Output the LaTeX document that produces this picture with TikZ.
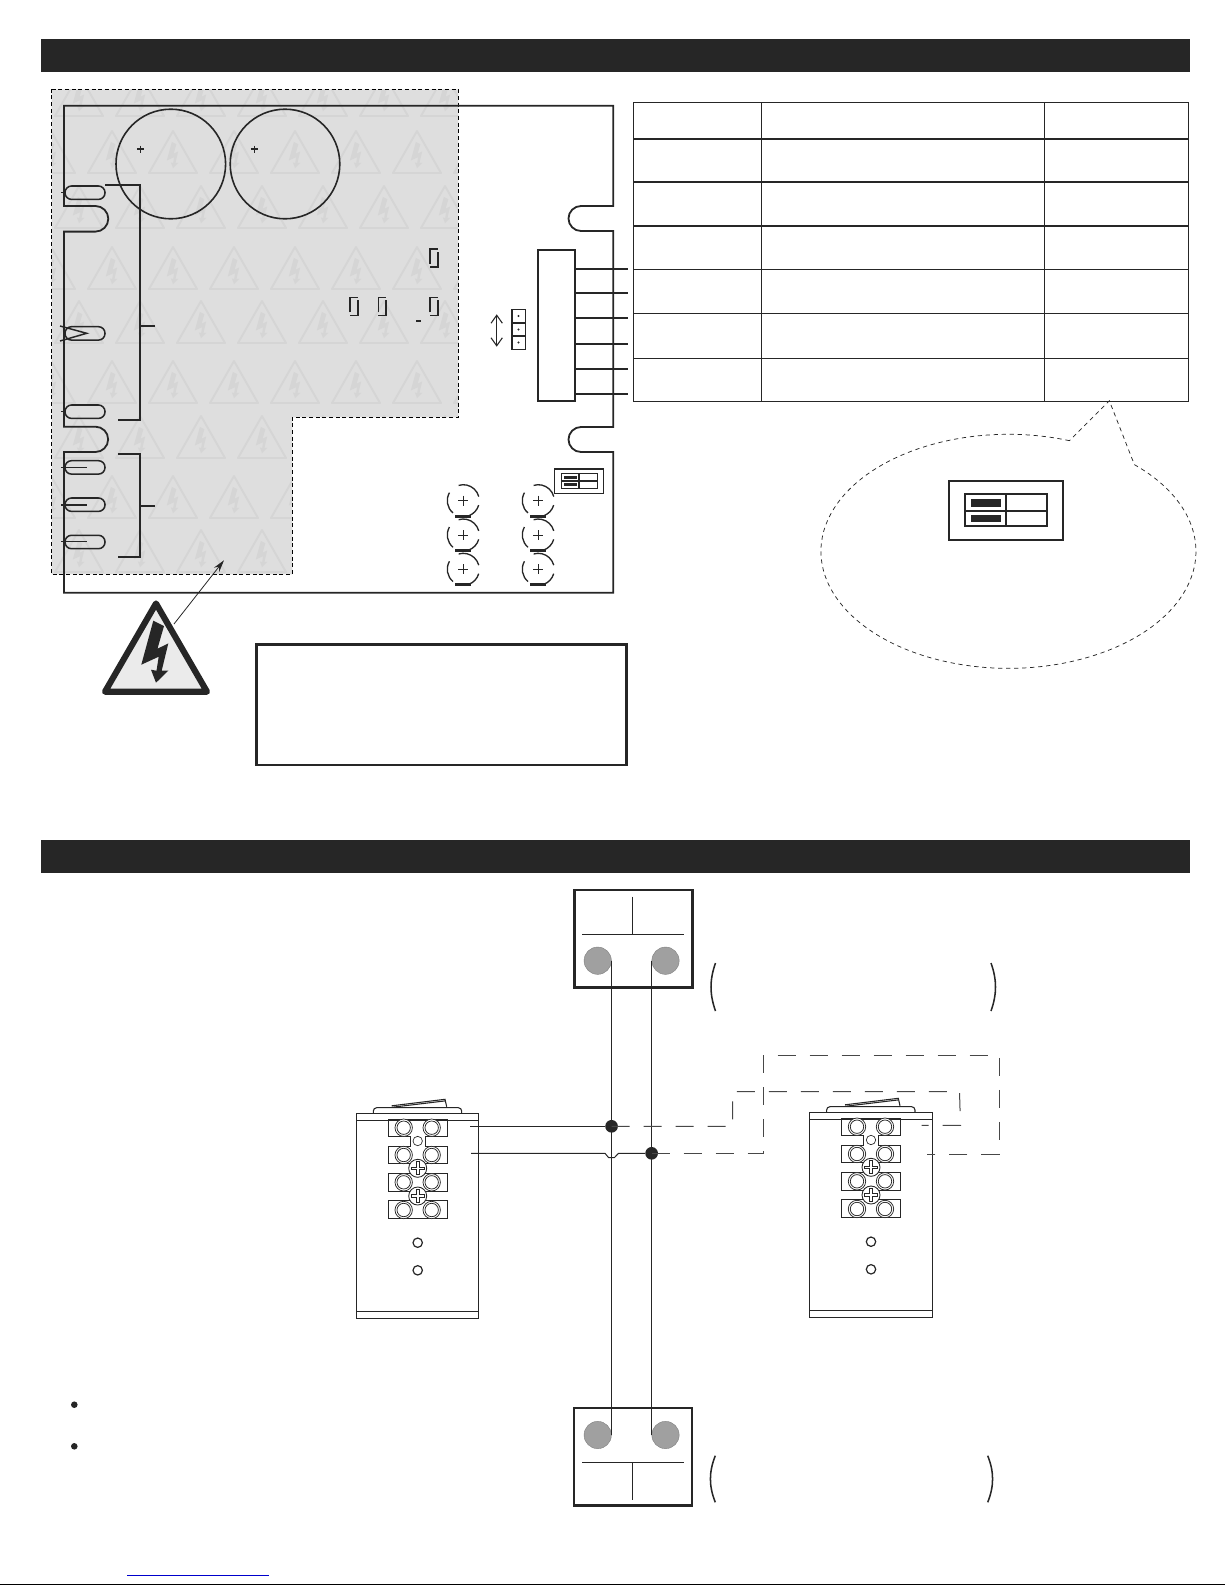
\documentclass[tikz,border=0pt]{standalone}
\usetikzlibrary{arrows.meta}
\definecolor{inkc}{HTML}{262626}
\definecolor{zonec}{HTML}{DEDEDE}
\definecolor{markc}{HTML}{D5D5D5}
\definecolor{lampc}{HTML}{A0A0A0}
\newcommand{\boltpath}{(-2.7,19) -- (8,24.3) -- (1.5,47) -- (12.3,41.7) -- (5.7,69) -- (12.3,69) -- (0,81) -- (-5,68) -- (0.5,69) -- (2.7,55) -- (-14.7,63) -- cycle}
\tikzset{
	boardline/.style={draw=inkc,line width=1.35pt},
	slimline/.style={draw=inkc,line width=0.8pt},
	zoneline/.style={draw=black,line width=0.55pt,dash pattern=on 3pt off 2pt},
	bubbleline/.style={draw=inkc,line width=0.55pt,dash pattern=on 3.2pt off 2.8pt},
	linkline/.style={draw=inkc,line width=0.75pt},
	linkdash/.style={draw=inkc!85,line width=0.75pt,dash pattern=on 13.5pt off 10.5pt},
	parenline/.style={draw=inkc,line width=1.15pt},
	junction/.style={circle,fill=inkc,minimum size=9.5pt,inner sep=0pt},
	lampdot/.style={circle,draw=gray,line width=0.3pt,fill=lampc,minimum size=20.5pt,inner sep=0pt},
	lampbox/.style={draw=inkc,line width=1.9pt,minimum width=88.6pt,minimum height=73.3pt,inner sep=0pt},
	warnmark/.pic={
		\draw[markc,line width=1.4pt,line join=round] (0,-42) -- (24,0) -- (-24,0) -- cycle;
		\fill[markc,shift={(0,-39)},scale=0.42] \boltpath;
	},
	keyunit/.pic={
		\draw[slimline,fill=white,rounded corners=2.5pt] (-44.4,0) -- (-44.4,-5.6) -- (44,-5.6) -- (44,0);
		\draw[slimline] (-26,-7.5) -- (27.3,-14) -- (29,-6.6);
		\draw[slimline] (-26,-6) -- (27.3,-12.4);
		\draw[slimline,line width=0.75pt] (-61.4,0) rectangle (61,205);
		\draw[slimline,line width=0.7pt] (-61.4,7) -- (61,7);
		\draw[slimline,line width=0.7pt] (-61.4,198) -- (61,198);
		\draw[slimline,line width=0.7pt] (-29.3,6) -- (29.3,6) -- (29.3,22.7) -- (7.3,22.7) -- (7.3,32.7) -- (29.3,32.7) -- (29.3,50) -- (-29.3,50) -- (-29.3,32.7) -- (-7.3,32.7) -- (-7.3,22.7) -- (-29.3,22.7) -- cycle;
		\draw[slimline,line width=0.7pt] (-29.3,60) rectangle (29.3,77.7);
		\draw[slimline,line width=0.7pt] (-29.3,87) rectangle (29.3,105);
		\foreach \rx in {-14,14}
			\foreach \ry in {14.4,41.7,69,96.7} {
				\draw[inkc,line width=0.55pt,fill=white] (\rx,\ry) circle[radius=8.7];
				\draw[inkc,line width=0.55pt] (\rx,\ry) circle[radius=6.7];
			}
		\draw[slimline,line width=0.5pt] (0,27.7) circle[radius=4.7];
		\foreach \ry in {55,82.7} {
			\draw[inkc,line width=0.65pt,fill=white] (0,\ry) circle[radius=9];
			\draw[inkc,line width=0.5pt,shift={(0,\ry)}] (-1.4,-6.5) -- (1.4,-6.5) -- (1.4,-1.4) -- (6.5,-1.4) -- (6.5,1.4) -- (1.4,1.4) -- (1.4,6.5) -- (-1.4,6.5) -- (-1.4,1.4) -- (-6.5,1.4) -- (-6.5,-1.4) -- (-1.4,-1.4) -- cycle;
		}
		\draw[slimline,line width=0.9pt] (0,129.4) circle[radius=4.7];
		\draw[slimline,line width=0.9pt] (0,157) circle[radius=4.7];
	},
}
\begin{document}
\begin{tikzpicture}[x=0.75pt,y=-0.75pt]
	\useasboundingbox (0,0) rectangle (1225,1585);
	\fill[inkc] (41,39) rectangle (1190,71.7);
	\fill[inkc] (41,840) rectangle (1190,872.7);
	\fill[black] (0,1583.5) rectangle (1225,1585);
	\fill[zonec] (51.7,89.3) -- (458.3,89.3) -- (458.3,417.3) -- (292.3,417.3) -- (292.3,574.3) -- (51.7,574.3) -- cycle;
	\begin{scope}
		\clip (51.7,89.3) -- (458.3,89.3) -- (458.3,417.3) -- (292.3,417.3) -- (292.3,574.3) -- (51.7,574.3) -- cycle;
		\foreach \rowy/\rowx in {116/79,173/51,228/79,289/51,343/79,403/51,458/79,518/51,572/79}
			\foreach \k in {0,...,7}
				\pic at ({\rowx+61*\k},\rowy) {warnmark};
	\end{scope}
	\draw[zoneline] (51.7,89.3) -- (458.3,89.3) -- (458.3,417.3) -- (292.3,417.3) -- (292.3,574.3) -- (51.7,574.3) -- cycle;
	\draw[boardline] (64,105.7) -- (613.3,105.7) -- (613.3,206) -- (581,206) arc[start angle=-90,end angle=-270,radius=12.5] -- (613.3,231) -- (613.3,427) -- (581,427) arc[start angle=-90,end angle=-270,radius=12.5] -- (613.3,452) -- (613.3,592.7) -- (64,592.7) -- (64,452) -- (95.5,452) arc[start angle=90,end angle=-90,radius=12.65] -- (64,426.7) -- (64,231.6) -- (95.5,231.6) arc[start angle=90,end angle=-90,radius=12.8] -- (64,206) -- cycle;
	\draw[boardline,line width=1.2pt] (170.8,164) circle[radius=54.8];
	\draw[boardline,line width=1.2pt] (285,164) circle[radius=54.8];
	\foreach \px in {140.7,254.3} {
		\draw[inkc,line width=1.1pt] (\px-3.5,149) -- (\px+3.5,149);
		\draw[inkc,line width=1.1pt] (\px,145.5) -- (\px,152.5);
	}
	\foreach \sy in {186,326.7,405,460.7,498,535.3}
		\draw[boardline,line width=1.15pt,rounded corners=4.9pt] (65,\sy) rectangle (105,\sy+13.4);
	\draw[boardline,line width=1.1pt] (61,192.7) -- (64,192.7);
	\draw[boardline,line width=1.1pt] (61,411.7) -- (64,411.7);
	\draw[boardline,line width=1.1pt] (60,326) -- (86.7,333.3) -- (60,341);
	\foreach \sy in {467.7,505,541.7}
		\draw[boardline,line width=1.1pt] (61,\sy) -- (87,\sy);
	\draw[boardline] (105,184.7) -- (140,184.7) -- (140,419.7) -- (118,419.7);
	\draw[boardline] (140,326) -- (155,326);
	\draw[boardline] (118,453.7) -- (140,453.7) -- (140,556.7) -- (118,556.7);
	\draw[boardline] (140,505.7) -- (155,505.7);
	\foreach \mx/\my in {430/249,350/297.3,378.3/297.3,430/297.3} {
		\draw[inkc,line width=1.2pt] (\mx,\my+15) -- (\mx,\my) -- (\mx+7.7,\my);
		\draw[inkc,line width=1.2pt] (\mx+7.7,\my+3) -- (\mx+7.7,\my+18) -- (\mx,\my+18);
	}
	\draw[inkc,line width=1.3pt] (416,320.7) -- (421,320.7);
	\node[draw=inkc,line width=1.35pt,minimum width=27.8pt,minimum height=113.4pt,inner sep=0pt] (conn) at (556.5,325.5) {};
	\foreach \wy [count=\wi] in {269,292.7,318,344,369,393.7} {
		\coordinate (w\wi) at (627.7,\wy);
		\draw[boardline,line width=1.2pt] (conn.east |- w\wi) -- (w\wi);
	}
	\draw[boardline,line width=1.2pt] (511.7,309.3) rectangle (525.3,349.3);
	\draw[boardline,line width=1.2pt] (511.7,322.7) -- (525.3,322.7);
	\draw[boardline,line width=1.2pt] (511.7,336) -- (525.3,336);
	\foreach \dy in {316,329.5,342.5}
		\fill[inkc] (518.5,\dy) circle[radius=1.2];
	\draw[draw=inkc,line width=0.8pt,{Straight Barb[length=6pt,width=8.5pt]}-{Straight Barb[length=6pt,width=8.5pt]}] (496.7,314.3) -- (496.7,346.7);
	\foreach \cx in {463.3,538.3}
		\foreach \cy in {500.7,535,569.3} {
			\draw[boardline,line width=1pt] (\cx,\cy) ++(-107:16) arc[start angle=-107,end angle=-15,radius=16];
			\draw[boardline,line width=1pt] (\cx,\cy) ++(-150:16) arc[start angle=-150,end angle=-230,radius=16];
			\draw[boardline,line width=1pt] (\cx,\cy) ++(16:16) arc[start angle=16,end angle=70,radius=16];
			\draw[inkc,line width=2.2pt] (\cx-8,\cy+15.6) -- (\cx+8,\cy+15.6);
			\draw[inkc,line width=0.55pt] (\cx-5,\cy) -- (\cx+5,\cy);
			\draw[inkc,line width=0.55pt] (\cx,\cy-5) -- (\cx,\cy+5);
		}
	\draw[boardline,line width=1.2pt] (554.3,469) rectangle (603.3,493.3);
	\draw[boardline,line width=1pt] (561.7,473.3) rectangle (597.3,488.7);
	\draw[boardline,line width=1pt] (561.7,481) -- (597.3,481);
	\draw[boardline,line width=1pt] (579,473.3) -- (579,488.7);
	\fill[inkc] (563.7,476) rectangle (577.3,479);
	\fill[inkc] (563.7,483) rectangle (577.3,486);
	\draw[slimline,line width=1pt] (633.7,102.3) rectangle (1188.7,401.3);
	\foreach \tx in {761.3,1044.3}
		\draw[slimline,line width=1pt] (\tx,102.3) -- (\tx,401.3);
	\foreach \ty in {138.7,182,225.7}
		\draw[boardline,line width=1.5pt] (633.7,\ty) -- (1188.7,\ty);
	\foreach \ty in {269.3,313.3,358.3}
		\draw[slimline,line width=0.75pt] (633.7,\ty) -- (1188.7,\ty);
	\draw[bubbleline] (1069.5,440.7) arc[start angle=-71,end angle=-407.8,x radius=187.5,y radius=117] -- (1109.3,400.7) -- cycle;
	\draw[boardline,line width=1.7pt] (949,480.7) rectangle (1063.3,540);
	\draw[boardline,line width=1.3pt] (964.7,494) rectangle (1047.3,526);
	\draw[boardline,line width=1.3pt] (964.7,510.7) -- (1047.3,510.7);
	\draw[boardline,line width=1.3pt] (1006,494) -- (1006,526);
	\fill[inkc] (971,499) rectangle (1001,506.7);
	\fill[inkc] (971,515) rectangle (1001,522);
	\coordinate (warnfoot) at (174,624);
	\coordinate (warnhead) at (224,560.3);
	\draw[inkc,line width=0.6pt,-{Stealth[length=9pt,width=5pt]}] (warnfoot) -- (warnhead);
	\draw[inkc,line width=4.6pt,line join=round,fill=black!8] (156,603.5) -- (207,691.7) -- (105,691.7) -- cycle;
	\fill[inkc,shift={(156,601.7)}] \boltpath;
	\node[draw=inkc,line width=2.1pt,minimum width=277.5pt,minimum height=90.2pt,inner sep=0pt] (warnbox) at (441.2,704.9) {};
	\node[lampbox] (topbox) at (633.5,938.8) {};
	\node[lampbox] (botbox) at (633,1456.7) {};
	\draw[linkline] (582,934.3) -- (684,934.3);
	\draw[linkline] (632.3,896.7) -- (632.3,934.3);
	\draw[linkline] (582,1462.3) -- (684,1462.3);
	\draw[linkline] (632.3,1462.3) -- (632.3,1499.7);
	\node[lampdot] (topl) at (597.7,960.7) {};
	\node[lampdot] (topr) at (665.5,960.7) {};
	\node[lampdot] (botl) at (597.7,1435) {};
	\node[lampdot] (botr) at (665.5,1435) {};
	\draw[linkline] (topl.east) -- (botl.east);
	\draw[linkline] (topr.west) -- (botr.west);
	\draw[parenline] (715.5,963) .. controls (709.5,980) and (709.5,994) .. (715.5,1011);
	\draw[parenline] (991,963) .. controls (997,980) and (997,994) .. (991,1011);
	\draw[parenline] (715.3,1455.7) .. controls (708.8,1472) and (708.8,1486) .. (715.3,1502.3);
	\draw[parenline] (987.7,1455.7) .. controls (994.2,1472) and (994.2,1486) .. (987.7,1502.3);
	\pic at (417.7,1113.3) {keyunit};
	\pic at (871,1112.3) {keyunit};
	\node[junction] (join1) at (topl.east |- 0,1126.3) {};
	\node[junction] (join2) at (topr.west |- 0,1153.3) {};
	\coordinate (lead1) at (470,1126.3);
	\coordinate (lead2) at (471,1153.3);
	\coordinate (far1) at (921.7,1125.3);
	\coordinate (far2) at (927.3,1154.3);
	\draw[linkline] (lead1) -- (join1);
	\draw[linkline] (lead2) -- (605,1153.3) -- (608.5,1157.5) -- (614.5,1157.5) -- (618.5,1153.3) -- (join2);
	\draw[linkdash] (join1.center) -- (732.7,1126.3) -- (732.7,1091.7) -- (959.5,1091.7) -- (960.5,1125.3) -- (far1);
	\draw[linkdash] (join2.center) -- (763.3,1153.3) -- (763.3,1055.3) -- (999,1055.3) -- (999,1154.3) -- (far2);
	\fill[inkc] (74.3,1404.7) circle[radius=3.3];
	\fill[inkc] (74.3,1446.3) circle[radius=3.3];
	\draw[blue!80!black,line width=1pt] (127.3,1575.3) -- (269,1575.3);
\end{tikzpicture}
\end{document}
